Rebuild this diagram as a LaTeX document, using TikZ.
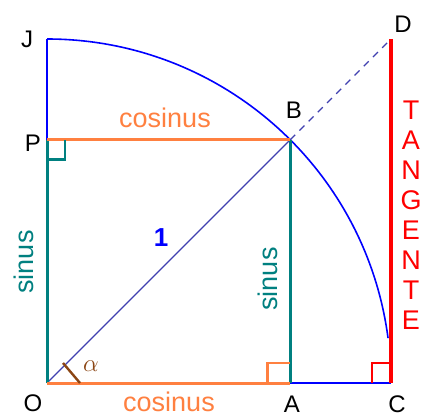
\documentclass[tikz,border=0pt]{standalone}
\usepackage{fontspec}
\setmainfont{Liberation Sans}
\usetikzlibrary{calc}
\definecolor{orng}{HTML}{FF8040}
\definecolor{tealc}{HTML}{008080}
\definecolor{radc}{HTML}{4040B0}
\definecolor{brownc}{HTML}{8B4513}
\definecolor{bluec}{HTML}{0000FF}
\definecolor{redc}{HTML}{FF0000}
\begin{document}
\begin{tikzpicture}[x=1pt,y=1pt,
  ptlabel/.style={font=\fontsize{24}{26}\selectfont, text=black, inner sep=0pt},
  coslabel/.style={font=\fontsize{27}{30}\selectfont, text=orng, inner sep=0pt, anchor=base},
  sinlabel/.style={font=\fontsize{27}{30}\selectfont, text=tealc, inner sep=0pt, anchor=base, rotate=90},
  tang/.style={font=\fontsize{27}{30}\selectfont, text=redc, inner sep=0pt},
  orline/.style={draw=orng, line width=3pt},
  teline/.style={draw=tealc, line width=3pt},
  blline/.style={draw=bluec, line width=1.6pt},
  rtmark/.style={line width=2.6pt}]
\useasboundingbox (0,0) rectangle (421,416);
\fill[white] (0,0) rectangle (421,416);
% points
\coordinate (O) at (47,33);
\coordinate (A) at (290.24,33);
\coordinate (C) at (391,33);
\coordinate (B) at (290.24,276.24);
\coordinate (P) at (47,276.24);
\coordinate (J) at (47,377);
\coordinate (D) at (391,377);
% arc and blue lines
\draw[blline] (J) arc[start angle=90, end angle=7.5, radius=344];
\draw[blline] (J) -- (P);
\draw[blline] (A) -- (C);
% radius and dashed extension
\draw[draw=radc, line width=1.2pt] (O) -- (B);
\draw[draw=radc, line width=1.2pt, dash pattern=on 7pt off 6pt] (B) -- (D);
% sinus / cosinus
\draw[teline] (P) -- (O);
\draw[teline] (A) -- (B);
\draw[orline] (P) -- (B);
\draw[orline] (O) -- (A);
% tangent
\draw[draw=redc, line width=4pt] (C) -- (D);
% right angle marks
\draw[rtmark, draw=tealc] ($(P)+(0,-20)$) -| ($(P)+(18,0)$);
\draw[rtmark, draw=orng] ($(A)+(-23,0)$) |- ($(A)+(0,20)$);
\draw[rtmark, draw=redc] ($(C)+(-19,0)$) |- ($(C)+(0,20)$);
% angle mark
\coordinate (a1) at (63,53);
\coordinate (a2) at (80,33);
\draw[draw=brownc, line width=2.4pt] (a1) -- (a2);
\node[font=\fontsize{24}{26}\selectfont, text=brownc, inner sep=0pt] (alpha) at (91,50) {$\alpha$};
% point labels
\node[ptlabel] (lJ) at (27,377) {J};
\node[ptlabel] (lP) at (33,273) {P};
\node[ptlabel] (lO) at (33,13) {O};
\node[ptlabel] (lA) at (292,12) {A};
\node[ptlabel] (lC) at (397,12) {C};
\node[ptlabel] (lD) at (403,392) {D};
\node[ptlabel] (lB) at (294,306) {B};
% function labels
\node[coslabel] (cos1) at (165,288) {cosinus};
\node[coslabel] (cos2) at (169,4.5) {cosinus};
\node[sinlabel] (sin1) at (33,154) {sinus};
\node[sinlabel] (sin2) at (277,137) {sinus};
\node[font=\bfseries\fontsize{26}{28}\selectfont, text=bluec, inner sep=0pt] (one) at (161,178) {1};
\foreach \l [count=\i] in {T,A,N,G,E,N,T,E}
  \node[tang] (t\i) at (411,{306-30*(\i-1)}) {\l};
\end{tikzpicture}
\end{document}
